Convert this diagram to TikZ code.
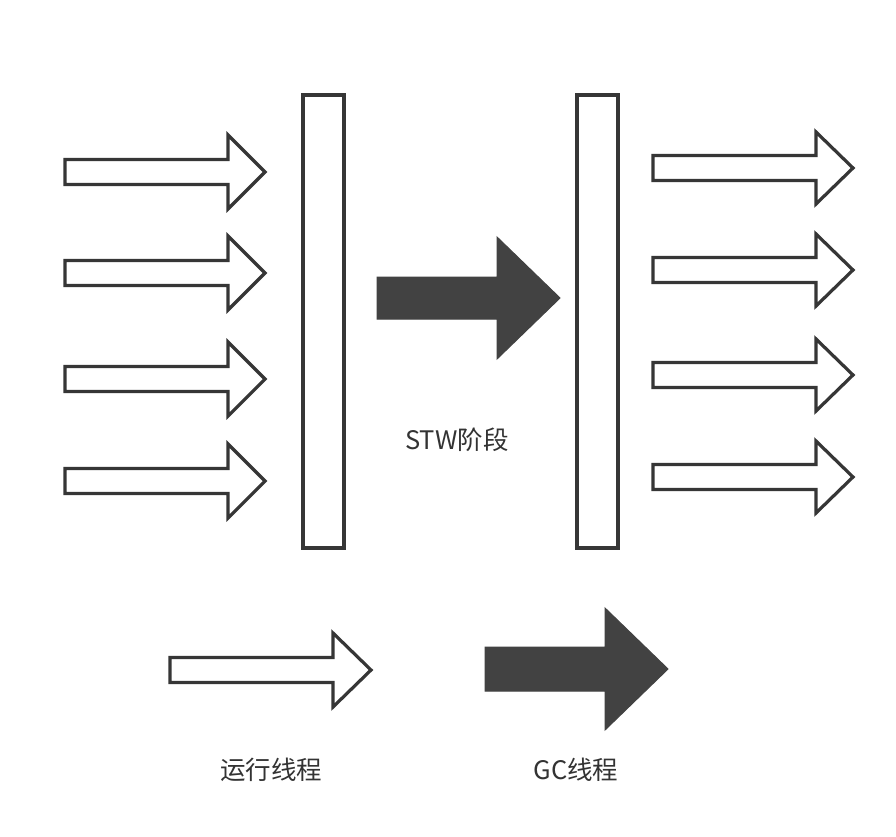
\documentclass[tikz,border=0pt]{standalone}
\usepackage{fontspec}
\setmainfont{Noto Sans CJK SC}
\definecolor{ink}{HTML}{363636}
\definecolor{darkfill}{HTML}{424242}
\definecolor{txt}{HTML}{333333}
% #1 x start, #2 head base x, #3 tip x, #4 centre y, #5 shaft half, #6 head half, #7 style
\newcommand{\blkarrow}[7]{%
  \draw[#7] (#1,#4-#5) -- (#2,#4-#5) -- (#2,#4-#6) -- (#3,#4) -- (#2,#4+#6) -- (#2,#4+#5) -- (#1,#4+#5) -- cycle;}
\begin{document}
\begin{tikzpicture}[x=1pt,y=-1pt,
  whitearrow/.style={draw=ink,fill=white,line width=3.2pt,line join=miter},
  darkarrow/.style={draw=darkfill,fill=darkfill,line width=1pt,line join=miter},
  barbox/.style={draw=ink,fill=white,line width=3.2pt},
  lbl/.style={text=txt,font=\fontsize{25.5}{30}\selectfont,inner sep=0pt}]
\useasboundingbox[fill=white] (0,0) rectangle (896,836);
% left running threads
\foreach \y in {172,273,379,481}{\blkarrow{65}{228}{265}{\y}{12.5}{37}{whitearrow}}
% barriers
\draw[barbox] (303,95) rectangle (344,548);
\draw[barbox] (577,95) rectangle (618,548);
% GC arrow
\blkarrow{377}{497}{560}{298}{21}{61}{darkarrow}
% right running threads
\foreach \y in {168,270,375,477}{\blkarrow{653}{816}{853}{\y}{12.5}{36}{whitearrow}}
% legend
\blkarrow{170}{333}{371}{670}{12.5}{37}{whitearrow}
\blkarrow{485}{605}{668}{669}{22}{61}{darkarrow}
\node[lbl] (stw) at (457,440) {STW阶段};
\node[lbl] (run) at (271,770) {运行线程};
\node[lbl] (gc) at (576,770) {GC线程};
\end{tikzpicture}
\end{document}
